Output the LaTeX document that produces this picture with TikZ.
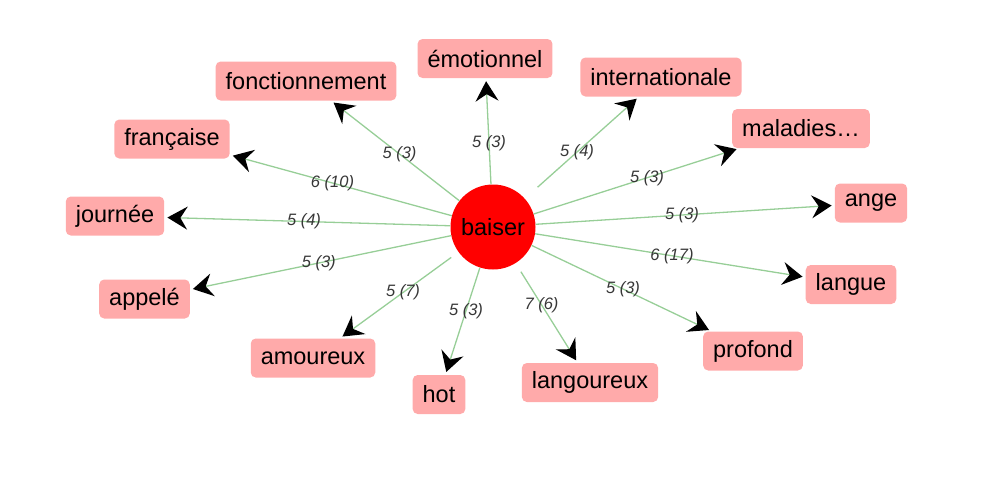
\documentclass[tikz,border=0pt]{standalone}
\usepackage{fontspec}
\setmainfont{Liberation Sans}
\definecolor{wordpink}{RGB}{255,170,170}
\definecolor{edgegreen}{RGB}{151,206,151}
\definecolor{labelgrey}{RGB}{55,55,55}
\usetikzlibrary{arrows.meta,calc}

\begin{document}
\begin{tikzpicture}[
      x=1pt,y=-1pt,
      word/.style={fill=wordpink,rounded corners=5pt,minimum height=39pt,
                   inner xsep=10pt,font=\fontsize{23.5}{24}\selectfont},
      hub/.style={circle,fill=red,minimum size=85pt,inner sep=0pt,
                  font=\fontsize{23.5}{24}\selectfont},
      link/.style={draw=edgegreen,line width=1.3pt,shorten >=3pt,
                   -{Stealth[color=black,length=20pt,width=23pt,inset=7pt]}},
      wt/.style={font=\fontsize{16.5}{18}\selectfont\itshape,text=labelgrey}]
    \useasboundingbox (0,0) rectangle (992,496);
    \node[hub] (baiser) at (493,227) {baiser};
    % words round the hub
    \node[word] (emotionnel) at (485,58.5) {émotionnel};
    \node[word] (fonction) at (306,81) {fonctionnement};
    \node[word] (francaise) at (172,139) {française};
    \node[word] (journee) at (115,216) {journée};
    \node[word] (appele) at (144.5,299) {appelé};
    \node[word] (amoureux) at (313,358) {amoureux};
    \node[word] (hot) at (439,394.5) {hot};
    \node[word] (langoureux) at (590,382.5) {langoureux};
    \node[word] (profond) at (753,351) {profond};
    \node[word] (langue) at (851,284.5) {langue};
    \node[word] (ange) at (871,203) {ange};
    \node[word] (maladies) at (801,128.5) {maladies…};
    \node[word] (inter) at (661,77) {internationale};
    % links
    \draw[link] (baiser) -- (emotionnel);
    \draw[link] (baiser) -- (fonction);
    \draw[link] (baiser) -- (francaise);
    \draw[link] (baiser) -- (journee);
    \draw[link] (baiser) -- (appele);
    \draw[link,shorten <=9pt] (baiser) -- (amoureux);
    \draw[link] (baiser) -- (hot);
    \draw[link,shorten <=10pt] (baiser) -- (langoureux);
    \draw[link] (baiser) -- (profond);
    \draw[link] (baiser) -- (langue);
    \draw[link] (baiser) -- (ange);
    \draw[link] (baiser) -- (maladies);
    \draw[link,shorten <=17pt] (baiser) -- (inter);
    % weights
    \node[wt] (wEmo) at ($(baiser)!.5!(emotionnel)$) {5 (3)};
    \node[wt] (wFon) at ($(baiser)!.5!(fonction)$) {5 (3)};
    \node[wt] (wFra) at ($(baiser)!.5!(francaise)$) {6 (10)};
    \node[wt] (wJou) at ($(baiser)!.5!(journee)$) {5 (4)};
    \node[wt] (wApp) at ($(baiser)!.5!(appele)$) {5 (3)};
    \node[wt] (wAmo) at ($(baiser)!.5!(amoureux)$) {5 (7)};
    \node[wt] (wHot) at ($(baiser)!.5!(hot)$) {5 (3)};
    \node[wt] (wLgx) at ($(baiser)!.5!(langoureux)$) {7 (6)};
    \node[wt] (wPro) at ($(baiser)!.5!(profond)$) {5 (3)};
    \node[wt] (wLan) at ($(baiser)!.5!(langue)$) {6 (17)};
    \node[wt] (wAng) at ($(baiser)!.5!(ange)$) {5 (3)};
    \node[wt] (wMal) at ($(baiser)!.5!(maladies)$) {5 (3)};
    \node[wt] (wInt) at ($(baiser)!.5!(inter)$) {5 (4)};
  \end{tikzpicture}
\end{document}
